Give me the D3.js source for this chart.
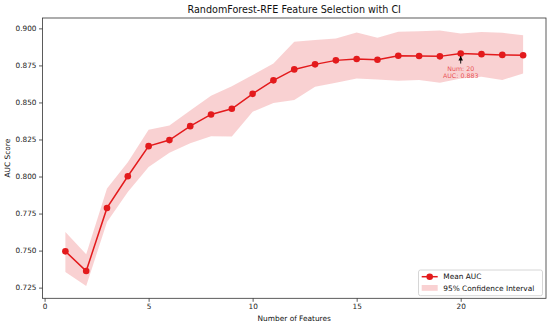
<!DOCTYPE html>
<html><head><meta charset="utf-8">
<script src="https://cdn.jsdelivr.net/npm/d3@7"></script>
<style>body{margin:0;background:#fff}svg{display:block;font-family:"DejaVu Sans",sans-serif}</style>
</head><body><svg id="c" width="550" height="327"></svg>
<script>
const features = [1,2,3,4,5,6,7,8,9,10,11,12,13,14,15,16,17,18,19,20,21,22,23];
const meanAUC = [0.7495,0.7362,0.7788,0.8002,0.8205,0.8246,0.8340,0.8419,0.8457,0.8558,0.8649,0.8723,0.8757,0.8784,0.8793,0.8788,0.8815,0.8813,0.8811,0.8830,0.8826,0.8821,0.8819];
const ciUpper = [0.7625,0.7475,0.7919,0.8096,0.8315,0.8345,0.8445,0.8545,0.8610,0.8685,0.8763,0.8909,0.8921,0.8932,0.8972,0.8936,0.8977,0.8981,0.8986,0.8966,0.8975,0.8970,0.8954];
const ciLower = [0.7356,0.7261,0.7693,0.7896,0.8065,0.8160,0.8225,0.8272,0.8270,0.8437,0.8497,0.8516,0.8606,0.8633,0.8662,0.8655,0.8646,0.8651,0.8633,0.8662,0.8673,0.8651,0.8696];
const xTicks = [0,5,10,15,20];
const yTicks = [0.725,0.750,0.775,0.800,0.825,0.850,0.875,0.900];
const best = {n:20, auc:0.883};

const svg = d3.select("#c");
const L=42.5, R=546, T=18, B=298.3;
const red = "#e31a1c";
const x = d3.scaleLinear().domain([-0.1,24.1]).range([L,R]);
const y = d3.scaleLinear().domain([0.7178,0.907]).range([B,T]);

const data = features.map((f,i)=>({f,m:meanAUC[i],u:ciUpper[i],l:ciLower[i]}));

svg.append("path").datum(data)
  .attr("d", d3.area().x(d=>x(d.f)).y0(d=>y(d.l)).y1(d=>y(d.u)))
  .attr("fill", red).attr("fill-opacity",0.2).attr("stroke","none");

svg.append("path").datum(data)
  .attr("d", d3.line().x(d=>x(d.f)).y(d=>y(d.m)))
  .attr("fill","none").attr("stroke",red).attr("stroke-width",1.5);

svg.selectAll("circle.pt").data(data).enter().append("circle")
  .attr("class","pt").attr("cx",d=>x(d.f)).attr("cy",d=>y(d.m)).attr("r",3.3).attr("fill",red);

// axes
const xa = svg.append("g").attr("transform",`translate(0,${B})`)
  .call(d3.axisBottom(x).tickValues(xTicks).tickSize(3.5).tickPadding(2.5).tickFormat(d3.format("d")));
const ya = svg.append("g").attr("transform",`translate(${L},0)`)
  .call(d3.axisLeft(y).tickValues(yTicks).tickSize(3.5).tickPadding(2.5).tickFormat(d3.format(".3f")));
[xa,ya].forEach(a=>{a.select(".domain").remove();a.selectAll("text").attr("font-size",7.3).attr("fill","#222").attr("font-family","DejaVu Sans");a.selectAll("line").attr("stroke","#333").attr("stroke-width",0.8);});

svg.append("rect").attr("x",L).attr("y",T).attr("width",R-L).attr("height",B-T)
  .attr("fill","none").attr("stroke","#333").attr("stroke-width",0.8);

// annotation
const bx = x(best.n), by = y(best.auc);
svg.append("defs").append("marker").attr("id","ah").attr("viewBox","0 0 10 10").attr("refX",10).attr("refY",5)
  .attr("markerWidth",5).attr("markerHeight",5).attr("orient","auto-start-reverse")
  .append("path").attr("d","M0,0 L10,5 L0,10 z").attr("fill","#000");
svg.append("line").attr("x1",bx).attr("y1",by+10).attr("x2",bx).attr("y2",by+2.5)
  .attr("stroke","#000").attr("stroke-width",0.9).attr("marker-end","url(#ah)");
svg.append("text").attr("x",bx).attr("y",by+17.5).attr("text-anchor","middle").attr("font-size",6.3)
  .attr("fill",red).attr("fill-opacity",0.75).text(`Num: ${best.n}`);
svg.append("text").attr("x",bx).attr("y",by+24.8).attr("text-anchor","middle").attr("font-size",6.3)
  .attr("fill",red).attr("fill-opacity",0.75).text(`AUC: ${best.auc.toFixed(3)}`);

// title & labels
svg.append("text").attr("x",(L+R)/2).attr("y",12.5).attr("text-anchor","middle").attr("font-size",9.6).attr("fill","#111")
  .text("RandomForest-RFE Feature Selection with CI");
svg.append("text").attr("x",(L+R)/2).attr("y",321).attr("text-anchor","middle").attr("font-size",7.4).attr("fill","#111")
  .text("Number of Features");
svg.append("text").attr("transform",`translate(9.5,${(T+B)/2}) rotate(-90)`).attr("text-anchor","middle").attr("font-size",7.4).attr("fill","#111")
  .text("AUC Score");

// legend
const lg = svg.append("g");
lg.append("rect").attr("x",418.5).attr("y",270).attr("width",124).attr("height",25.7).attr("rx",2)
  .attr("fill","#fff").attr("fill-opacity",0.8).attr("stroke","#ccc").attr("stroke-width",0.8);
lg.append("line").attr("x1",421.7).attr("x2",437.7).attr("y1",276.7).attr("y2",276.7).attr("stroke",red).attr("stroke-width",1.5);
lg.append("circle").attr("cx",429.7).attr("cy",276.7).attr("r",3.3).attr("fill",red);
lg.append("rect").attr("x",421.7).attr("y",285).attr("width",16).attr("height",5.8).attr("fill",red).attr("fill-opacity",0.2);
lg.append("text").attr("x",443.3).attr("y",279.3).attr("font-size",7.4).attr("fill","#111").text("Mean AUC");
lg.append("text").attr("x",443.3).attr("y",290.6).attr("font-size",7.4).attr("fill","#111").text("95% Confidence Interval");
</script></body></html>
